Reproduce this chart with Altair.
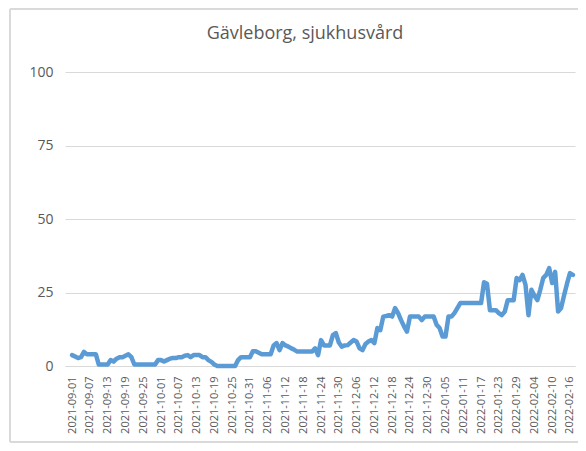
import altair as alt
import pandas as pd

title_text = "Gävleborg, sjukhusvård"
start_date = "2021-09-01"

# daily values, starting 2021-09-01
values = [
    3.7, 3.2, 2.7, 3.0, 4.8, 4.0, 4.0, 4.0, 4.0, 0.5,
    0.5, 0.5, 0.5, 2.0, 1.5, 2.5, 3.0, 3.0, 3.5, 4.0,
    3.0, 0.5, 0.5, 0.5, 0.5, 0.5, 0.5, 0.5, 0.5, 2.0,
    2.0, 1.5, 2.0, 2.5, 2.7, 2.7, 3.0, 3.0, 3.5, 3.7,
    3.0, 3.7, 3.7, 3.7, 3.0, 3.0, 2.0, 1.4, 0.5, 0.0,
    0.0, 0.0, 0.0, 0.0, 0.0, 0.0, 2.0, 3.0, 3.0, 3.0,
    3.0, 5.0, 5.0, 4.5, 4.0, 4.0, 4.0, 4.0, 7.0, 7.8,
    5.4, 7.8, 7.0, 6.6, 6.0, 5.5, 4.9, 4.9, 4.9, 4.9,
    4.9, 4.9, 6.0, 3.7, 8.8, 7.0, 7.0, 7.0, 10.5, 11.2,
    8.0, 6.6, 7.0, 7.1, 8.0, 8.8, 8.3, 6.0, 5.4, 7.5,
    8.3, 8.8, 7.8, 12.9, 12.2, 16.8, 17.0, 17.3, 16.8, 19.7,
    18.0, 15.6, 13.5, 11.7, 16.8, 16.8, 16.8, 16.8, 15.6, 16.8,
    16.8, 16.8, 16.8, 14.0, 12.9, 10.0, 10.0, 16.8, 16.8, 18.0,
    19.7, 21.4, 21.4, 21.4, 21.4, 21.4, 21.4, 21.4, 21.4, 28.5,
    28.0, 19.0, 19.0, 19.0, 18.0, 17.3, 18.5, 22.4, 22.4, 22.4,
    29.9, 29.2, 31.0, 27.6, 17.3, 25.9, 24.0, 22.4, 26.0, 30.0,
    31.0, 33.3, 28.2, 32.0, 18.5, 19.7, 24.0, 28.0, 31.6, 31.0,
]

y_ticks = [0, 25, 50, 75, 100]
x_tick_days = list(range(0, 169, 6))

dates = pd.date_range(start_date, periods=len(values), freq="D")
df = pd.DataFrame({
    "day": list(range(len(values))),
    "date": dates.strftime("%Y-%m-%d"),
    "value": values,
})
title_df = pd.DataFrame({"t": [title_text]})

grey = "#595959"
font = "Open Sans"

line = alt.Chart(df).mark_line(
    color="#5B9BD5", strokeWidth=4.5, strokeJoin="round", strokeCap="round"
).encode(
    x=alt.X(
        "day:Q",
        scale=alt.Scale(domain=[-2.4, 169.7], nice=False, zero=False),
        axis=alt.Axis(
            values=x_tick_days,
            labelExpr="utcFormat(utc(2021, 8, 1 + datum.value), '%Y-%m-%d')",
            labelAngle=-90,
            labelFontSize=11,
            labelFont=font,
            labelColor=grey,
            labelPadding=10,
            ticks=False,
            domain=True,
            domainColor="#D9D9D9",
            grid=False,
            title=None,
            labelOverlap=False,
        ),
    ),
    y=alt.Y(
        "value:Q",
        scale=alt.Scale(domain=[0, 100], nice=False),
        axis=alt.Axis(
            values=y_ticks,
            labelFontSize=14,
            labelFont=font,
            labelColor=grey,
            labelPadding=12,
            ticks=False,
            domain=False,
            grid=True,
            gridColor="#D9D9D9",
            title=None,
        ),
    ),
)

frame = alt.Chart(df).mark_rect(
    fill=None, stroke="#D9D9D9", strokeWidth=1
).encode(
    x=alt.value(-55), x2=alt.value(519), y=alt.value(-63), y2=alt.value(370)
)

title = alt.Chart(title_df).mark_text(
    font=font, fontSize=18, color=grey, align="center", baseline="alphabetic"
).encode(
    text="t:N", x=alt.value(240), y=alt.value(-33)
)

chart = alt.layer(frame, line, title).properties(
    width=510,
    height=294,
    autosize=alt.AutoSizeParams(type="none"),
    padding={"left": 57, "top": 64, "right": 3, "bottom": 77},
).configure_view(stroke=None)

chart.save("out.html", embed_options={"renderer": "svg", "actions": False})
